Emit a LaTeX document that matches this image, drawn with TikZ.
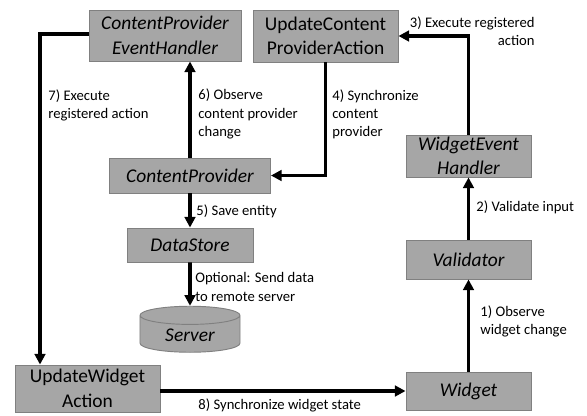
\documentclass[tikz,border=0pt]{standalone}
\usepackage{fontspec}
\setmainfont{Carlito}
\usepackage{tikz}
\usetikzlibrary{shapes.geometric, arrows.meta, positioning, calc}

\definecolor{boxfill}{HTML}{A6A6A6}
\definecolor{boxline}{HTML}{808080}

\begin{document}
\begin{tikzpicture}[x=0.03cm, y=-0.03cm,
    box/.style={draw=boxline, fill=boxfill, thick, align=center, inner sep=1pt,
        font=\fontsize{16.6}{21}\selectfont},
    lbl/.style={align=left, inner sep=1pt, font=\fontsize{12.5}{15.5}\selectfont},
    flow/.style={line width=3.2pt, -{Triangle[length=9pt, width=9pt]}}]
    \useasboundingbox (0,0) rectangle (587,415);

    % Content provider side
    \node[box, minimum width=4.56cm, minimum height=1.53cm] (cpeh) at (165,35.5)
        {\itshape ContentProvider\\\itshape EventHandler};
    \node[box, minimum width=4.35cm, minimum height=1.56cm] (ucpa) at (325.5,36)
        {UpdateContent\\ProviderAction};
    \node[box, minimum width=4.83cm, minimum height=1.05cm] (cp) at (190,175.5)
        {\itshape ContentProvider};
    \node[box, minimum width=3.78cm, minimum height=1.02cm] (ds) at (190,245)
        {\itshape DataStore};
    \node[box, shape=cylinder, shape border rotate=90, aspect=0.35,
        minimum width=3cm, minimum height=1.38cm] (srv) at (190,335)
        {\itshape Server};
    \node[box, minimum width=4.35cm, minimum height=1.41cm] (uw) at (87.5,388.5)
        {UpdateWidget\\Action};

    % Widget side
    \node[box, minimum width=3.75cm, minimum height=1.26cm] (weh) at (468.5,156)
        {\itshape WidgetEvent\\\itshape Handler};
    \node[box, minimum width=3.75cm, minimum height=1.17cm] (val) at (468.5,259.5)
        {\itshape Validator};
    \node[box, minimum width=3.75cm, minimum height=1.14cm] (wdg) at (468.5,391)
        {\itshape Widget};

    % Flows
    \coordinate (c7) at (40,34);
    \draw[flow] (wdg.north) -- (val.south);
    \draw[flow] (val.north) -- (weh.south);
    \draw[flow] (weh.north) |- (ucpa.east);
    \draw[flow] (ucpa.south) |- (cp.east);
    \draw[flow] (cp.south) -- (ds.north);
    \draw[flow] (ds.south) -- (srv.north);
    \draw[flow] (cp.north) -- (cp.north |- cpeh.south);
    \draw[flow] (cpeh.west |- c7) -- (c7) -- (c7 |- uw.north);
    \draw[flow] (uw.east |- wdg.west) -- (wdg.west);

    % Labels
    \node[lbl, anchor=west] (l1) at (479,321) {1) Observe\\widget change};
    \node[lbl, anchor=west] (l2) at (475,207) {2) Validate input};
    \node[lbl, anchor=east, align=right] (l3) at (536,31) {3) Execute registered\\action};
    \node[lbl, anchor=west] (l4) at (331,114) {4) Synchronize\\content\\provider};
    \node[lbl, anchor=west] (l5) at (195,211) {5) Save entity};
    \node[lbl, anchor=west] (l6) at (197,114) {6) Observe\\content provider\\change};
    \node[lbl, anchor=west] (l7) at (47,105) {7) Execute\\registered action};
    \node[lbl, anchor=west] (l8) at (197,405) {8) Synchronize widget state};
    \node[lbl, anchor=west] (lopt) at (194,287) {Optional: Send data\\to remote server};
\end{tikzpicture}
\end{document}
